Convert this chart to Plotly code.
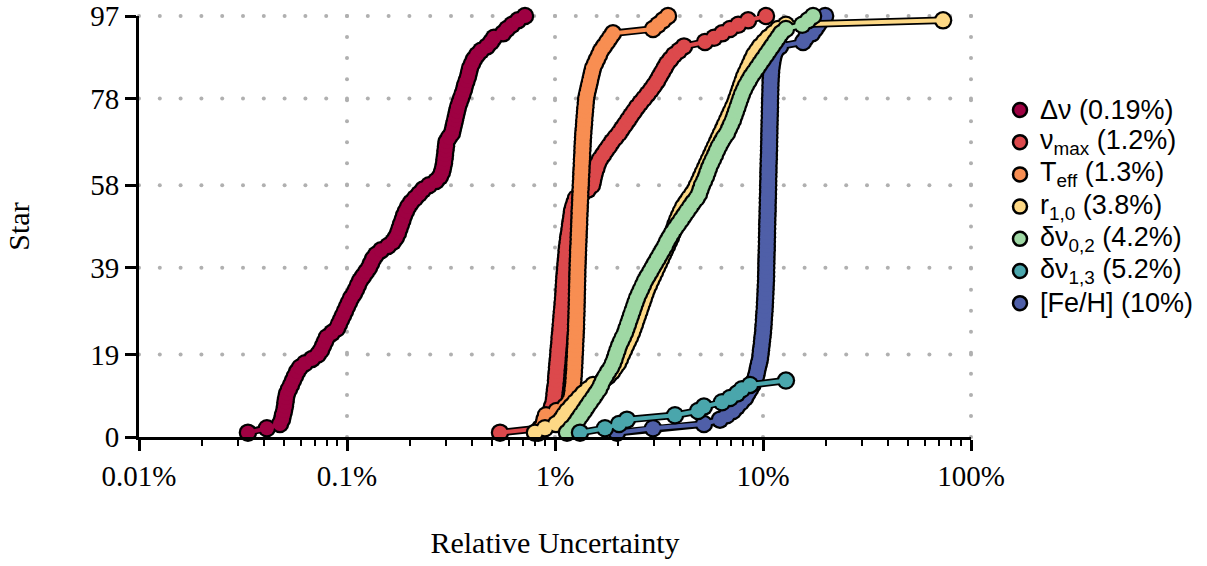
import plotly.graph_objects as go

# Relative uncertainty (%) per star, sorted; star rank = position (1..N)
DNU = [0.0334, 0.0412, 0.0476, 0.0487, 0.0492, 0.0498, 0.0503, 0.0506, 0.0509, 0.0515,
       0.0526, 0.0538, 0.0550, 0.0562, 0.0575, 0.0594, 0.0628, 0.0679, 0.0725, 0.0750,
       0.0767, 0.0784, 0.0801, 0.0847, 0.0895, 0.0915, 0.0936, 0.0957, 0.0978, 0.1000,
       0.1022, 0.1045, 0.1080, 0.1105, 0.1129, 0.1155, 0.1194, 0.1234, 0.1276, 0.1305,
       0.1334, 0.1379, 0.1457, 0.1574, 0.1664, 0.1720, 0.1759, 0.1788, 0.1818, 0.1849,
       0.1879, 0.1921, 0.1964, 0.2031, 0.2123, 0.2219, 0.2320, 0.2479, 0.2678, 0.2800,
       0.2862, 0.2894, 0.2926, 0.2942, 0.2959, 0.2975, 0.2992, 0.3008, 0.3093, 0.3197,
       0.3233, 0.3269, 0.3305, 0.3342, 0.3379, 0.3416, 0.3474, 0.3532, 0.3591, 0.3652,
       0.3693, 0.3754, 0.3817, 0.3860, 0.3903, 0.3990, 0.4080, 0.4217, 0.4408, 0.4710,
       0.4924, 0.5090, 0.5623, 0.5878, 0.6213, 0.6640, 0.7176]

NUMAX = [0.544, 0.847, 0.905, 0.925, 0.946, 0.957, 0.967, 0.984, 0.989, 0.994,
         1.000, 1.006, 1.011, 1.014, 1.018, 1.022, 1.027, 1.031, 1.036, 1.039,
         1.044, 1.049, 1.052, 1.057, 1.062, 1.066, 1.070, 1.074, 1.079, 1.084,
         1.088, 1.093, 1.096, 1.099, 1.102, 1.105, 1.109, 1.114, 1.118, 1.123,
         1.128, 1.133, 1.137, 1.142, 1.150, 1.157, 1.166, 1.174, 1.182, 1.190,
         1.199, 1.207, 1.220, 1.241, 1.262, 1.348, 1.440, 1.506, 1.523, 1.540,
         1.557, 1.583, 1.609, 1.646, 1.701, 1.758, 1.818, 1.879, 1.954, 2.031,
         2.099, 2.171, 2.244, 2.319, 2.398, 2.479, 2.577, 2.680, 2.786, 2.896,
         2.994, 3.095, 3.180, 3.268, 3.359, 3.452, 3.587, 3.732, 3.945, 4.170,
         5.260, 5.818, 6.360, 6.940, 7.600, 8.480, 10.34]

TEFF = [0.830, 0.860, 0.880, 0.890, 0.905, 1.017, 1.117, 1.168, 1.194, 1.207,
        1.214, 1.220, 1.225, 1.229, 1.233, 1.237, 1.239, 1.242, 1.245, 1.248,
        1.251, 1.253, 1.256, 1.259, 1.262, 1.263, 1.265, 1.267, 1.269, 1.270,
        1.272, 1.273, 1.274, 1.276, 1.277, 1.279, 1.280, 1.281, 1.283, 1.285,
        1.287, 1.290, 1.291, 1.294, 1.297, 1.299, 1.301, 1.304, 1.307, 1.308,
        1.311, 1.313, 1.316, 1.319, 1.322, 1.324, 1.327, 1.330, 1.333, 1.336,
        1.339, 1.342, 1.345, 1.348, 1.351, 1.354, 1.357, 1.360, 1.364, 1.368,
        1.373, 1.379, 1.383, 1.388, 1.394, 1.400, 1.406, 1.412, 1.425, 1.441,
        1.457, 1.473, 1.489, 1.506, 1.523, 1.557, 1.592, 1.628, 1.664, 1.720,
        1.778, 1.838, 1.900, 2.959, 3.128, 3.306, 3.494]

R10 = [0.801, 0.895, 1.011, 1.069, 1.105, 1.142, 1.194, 1.248, 1.304, 1.364,
       1.441, 1.523, 1.701, 1.798, 1.879, 1.943, 2.009, 2.054, 2.099, 2.146,
       2.195, 2.244, 2.294, 2.345, 2.384, 2.425, 2.465, 2.506, 2.548, 2.590,
       2.634, 2.678, 2.723, 2.768, 2.831, 2.894, 2.959, 3.025, 3.093, 3.162,
       3.233, 3.306, 3.380, 3.455, 3.533, 3.612, 3.672, 3.733, 3.796, 3.861,
       3.947, 4.036, 4.126, 4.266, 4.410, 4.560, 4.711, 4.817, 4.925, 5.035,
       5.148, 5.262, 5.381, 5.501, 5.624, 5.750, 5.878, 6.009, 6.144, 6.281,
       6.422, 6.566, 6.713, 6.862, 7.016, 7.172, 7.335, 7.456, 7.582, 7.709,
       7.838, 7.970, 8.103, 8.284, 8.469, 8.659, 8.853, 9.050, 9.358, 9.673,
       10.11, 10.57, 11.17, 11.81, 12.89, 73.4]

DNU02 = [1.142, 1.194, 1.248, 1.290, 1.334, 1.379, 1.425, 1.473, 1.523, 1.574,
         1.628, 1.664, 1.701, 1.749, 1.798, 1.859, 1.900, 1.934, 1.965, 1.998,
         2.031, 2.076, 2.122, 2.171, 2.207, 2.244, 2.282, 2.319, 2.357, 2.398,
         2.438, 2.479, 2.534, 2.590, 2.648, 2.708, 2.784, 2.863, 2.943, 3.025,
         3.111, 3.198, 3.288, 3.380, 3.455, 3.552, 3.652, 3.775, 3.904, 4.036,
         4.173, 4.314, 4.457, 4.610, 4.793, 4.925, 5.008, 5.092, 5.206, 5.322,
         5.411, 5.501, 5.624, 5.750, 5.878, 6.009, 6.144, 6.316, 6.493, 6.713,
         6.862, 7.016, 7.172, 7.293, 7.415, 7.540, 7.666, 7.795, 7.926, 8.103,
         8.284, 8.516, 8.755, 9.050, 9.358, 9.673, 10.00, 10.34, 10.69, 11.05,
         11.42, 11.81, 12.21, 12.89, 15.44, 16.45, 17.41]

DNU13 = [1.319, 1.739, 2.031, 2.217, 3.775, 4.870, 5.200, 6.350, 6.940, 7.500,
         7.920, 8.660, 12.89]

FEH = [1.986, 2.959, 5.200, 6.210, 6.700, 7.170, 7.500, 7.840, 8.190, 8.420,
       8.660, 8.900, 9.100, 9.260, 9.360, 9.460, 9.570, 9.670, 9.730, 9.780,
       9.840, 9.890, 9.940, 10.00, 10.03, 10.07, 10.10, 10.13, 10.17, 10.20,
       10.22, 10.25, 10.27, 10.29, 10.31, 10.34, 10.35, 10.36, 10.37, 10.38,
       10.39, 10.40, 10.42, 10.43, 10.44, 10.45, 10.46, 10.47, 10.48, 10.49,
       10.51, 10.52, 10.53, 10.54, 10.55, 10.57, 10.58, 10.59, 10.60, 10.61,
       10.62, 10.63, 10.64, 10.66, 10.67, 10.69, 10.70, 10.71, 10.72, 10.73,
       10.74, 10.75, 10.76, 10.78, 10.79, 10.80, 10.81, 10.82, 10.84, 10.85,
       10.86, 10.88, 10.91, 10.94, 10.99, 11.06, 11.15, 11.27, 11.52, 12.07,
       15.58, 16.10, 17.20, 17.80, 18.40, 19.05, 19.90]

LABELS = {
    "dnu": "Δν (0.19%)",
    "numax": "ν<sub>max</sub> (1.2%)",
    "teff": "T<sub>eff</sub> (1.3%)",
    "r10": "r<sub>1,0</sub> (3.8%)",
    "dnu02": "δν<sub>0,2</sub> (4.2%)",
    "dnu13": "δν<sub>1,3</sub> (5.2%)",
    "feh": "[Fe/H] (10%)",
}
COLORS = {
    "dnu": "#9e0142", "numax": "#dc494c", "teff": "#f88e52", "r10": "#fdd885",
    "dnu02": "#9fd8a4", "dnu13": "#4aa6ac", "feh": "#4f5fa8",
}
DATA = {"dnu": DNU, "numax": NUMAX, "teff": TEFF, "r10": R10,
        "dnu02": DNU02, "dnu13": DNU13, "feh": FEH}

DRAW_ORDER = ["dnu", "numax", "teff", "feh", "r10", "dnu02", "dnu13"]
LEGEND_ORDER = ["dnu", "numax", "teff", "r10", "dnu02", "dnu13", "feh"]

X_TICKS = [0.01, 0.1, 1, 10, 100]
X_TICKTEXT = ["0.01%", "0.1%", "1%", "10%", "100%"]
X_MINOR = [m * 10.0 ** e for e in range(-2, 2) for m in range(2, 10)]
Y_TICKS = [0, 19, 39, 58, 78, 97]
Y_MAX = 97

# Figure geometry (pixels)
W, H = 1207, 566
ML, MR, MT, MB = 139, 236, 16, 129
PLOT_W = W - ML - MR
PLOT_H = H - MT - MB

# Legend layout (pixels from the top-left of the figure)
LEG_MARKER_X = 1020
LEG_TEXT_X = 1038
LEG_TOP = 110
LEG_STEP = 32.2
LEG_R = 7


def px_to_paper_x(px):
    return (px - ML) / PLOT_W


def px_to_paper_y(py):
    return (H - MB - py) / PLOT_H


GRID_COLOR = "#b0b0b0"

fig = go.Figure()

# dotted grid (dots every 1/10 decade along rows, every 1/20 of y span along columns)
gx, gy = [], []
for yv in Y_TICKS[1:]:
    for k in range(0, 41):
        gx.append(10 ** (-2 + k / 10))
        gy.append(yv)
for e in range(-1, 3):
    for j in range(0, 21):
        gx.append(10.0 ** e)
        gy.append(Y_MAX * j / 20)
fig.add_trace(go.Scatter(x=gx, y=gy, mode="markers", hoverinfo="skip",
                         marker=dict(symbol="circle", size=4, color=GRID_COLOR,
                                     line=dict(width=0)),
                         showlegend=False, cliponaxis=False))

for key in DRAW_ORDER:
    xs = DATA[key]
    ys = list(range(1, len(xs) + 1))
    fig.add_trace(go.Scatter(x=xs, y=ys, mode="lines+markers",
                             line=dict(color="black", width=7.5),
                             marker=dict(color="black", size=18.5, line=dict(width=0)),
                             showlegend=False, hoverinfo="skip", cliponaxis=False))
    fig.add_trace(go.Scatter(x=xs, y=ys, mode="lines+markers",
                             line=dict(color=COLORS[key], width=4),
                             marker=dict(color=COLORS[key], size=14, line=dict(width=0)),
                             showlegend=False, name=LABELS[key], cliponaxis=False))

# manual legend: circle shapes + text annotations in paper coordinates
shapes, annotations = [], []
for i, k in enumerate(LEGEND_ORDER):
    py = LEG_TOP + i * LEG_STEP
    shapes.append(dict(type="circle", xref="paper", yref="paper",
                       xsizemode="pixel", ysizemode="pixel",
                       xanchor=px_to_paper_x(LEG_MARKER_X), yanchor=px_to_paper_y(py),
                       x0=-LEG_R, x1=LEG_R, y0=-LEG_R, y1=LEG_R,
                       fillcolor=COLORS[k], line=dict(color="black", width=2.5),
                       layer="above"))
    annotations.append(dict(x=px_to_paper_x(LEG_TEXT_X), y=px_to_paper_y(py),
                            xref="paper", yref="paper", text=LABELS[k],
                            showarrow=False, xanchor="left", yanchor="middle",
                            font=dict(family="Liberation Sans", size=27, color="black")))

axis_common = dict(showline=True, linecolor="black", linewidth=3, ticks="outside",
                   tickwidth=3, tickcolor="black", ticklen=11, zeroline=False,
                   showgrid=False, automargin=False,
                   tickfont=dict(family="Liberation Serif", size=29, color="black"))

fig.update_layout(
    width=W, height=H,
    margin=dict(l=ML, r=MR, t=MT, b=MB, autoexpand=False),
    paper_bgcolor="white", plot_bgcolor="white",
    font=dict(family="Liberation Serif", size=29, color="black"),
    showlegend=False,
    shapes=shapes,
    annotations=annotations,
    xaxis=dict(type="log", range=[-2, 2], tickvals=X_TICKS, ticktext=X_TICKTEXT,
               minor=dict(tickvals=X_MINOR, ticks="outside", ticklen=6, tickwidth=2,
                          tickcolor="black", showgrid=False),
               title=dict(text="Relative Uncertainty", standoff=42,
                          font=dict(family="Liberation Serif", size=30)),
               **axis_common),
    yaxis=dict(range=[0, Y_MAX], tickvals=Y_TICKS,
               title=dict(text="Star", standoff=52,
                          font=dict(family="Liberation Serif", size=30)),
               **axis_common),
)

fig.write_html("out.html")
